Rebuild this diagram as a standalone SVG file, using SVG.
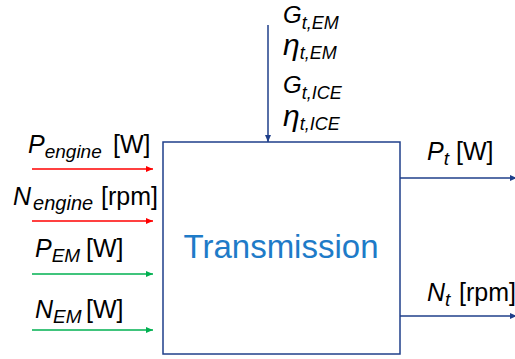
<svg xmlns="http://www.w3.org/2000/svg" width="515" height="359" viewBox="0 0 515 359">
<style>
.lbl{font-family:"Liberation Sans",Arial,sans-serif;font-size:25px;fill:#000}
.top{font-family:"Liberation Sans",Arial,sans-serif;font-size:24px;fill:#000;font-style:italic}
.eta{font-size:30px}
.it{font-style:italic}
.sub{font-size:19px;font-style:italic}
.tsub{font-size:18px;font-style:italic}
.red{stroke:#ff0000;stroke-width:1.5;fill:none}
.grn{stroke:#00b050;stroke-width:1.5;fill:none}
.blu{stroke:#1f3f8a;stroke-width:1.5;fill:none}
</style>
<defs>
<marker id="ar" markerWidth="8" markerHeight="8" refX="7" refY="4" orient="auto" markerUnits="userSpaceOnUse"><path d="M0,1 L7,4 L0,7 Z" fill="#ff0000"/></marker>
<marker id="ag" markerWidth="8" markerHeight="8" refX="7" refY="4" orient="auto" markerUnits="userSpaceOnUse"><path d="M0,1 L7,4 L0,7 Z" fill="#00b050"/></marker>
<marker id="ab" markerWidth="8" markerHeight="8" refX="7" refY="4" orient="auto" markerUnits="userSpaceOnUse"><path d="M0,1 L7,4 L0,7 Z" fill="#1f3f8a"/></marker>
</defs>
<g id="transmission">
<rect x="163" y="142" width="237" height="212" fill="#fff" stroke="#1f3f8a" stroke-width="1.5"/>
<text x="281" y="258" text-anchor="middle" style="font-family:'Liberation Sans',Arial,sans-serif;font-size:33px;fill:#1e7bc8">Transmission</text>
</g>
<g id="connectors">
<line class="red" x1="32" y1="169" x2="153" y2="169" marker-end="url(#ar)"/>
<line class="red" x1="32" y1="221" x2="153" y2="221" marker-end="url(#ar)"/>
<line class="grn" x1="32" y1="274" x2="153" y2="274" marker-end="url(#ag)"/>
<line class="grn" x1="32" y1="330" x2="153" y2="330" marker-end="url(#ag)"/>
<line class="blu" x1="268" y1="25" x2="268" y2="142" marker-end="url(#ab)"/>
<line class="blu" x1="400" y1="178" x2="517" y2="178" marker-end="url(#ab)"/>
<line class="blu" x1="400" y1="316" x2="517" y2="316" marker-end="url(#ab)"/>
</g>
<g id="labels">
<text class="lbl" x="28" y="153"><tspan class="it">P</tspan><tspan class="sub" dy="5">engine</tspan><tspan x="113" y="153">[W]</tspan></text>
<text class="lbl" x="13" y="205"><tspan class="it">N</tspan><tspan class="sub" dy="5" dx="2" style="font-size:20px">engine</tspan><tspan x="101" y="205">[rpm]</tspan></text>
<text class="lbl" x="35" y="257"><tspan class="it">P</tspan><tspan class="sub" dy="5">EM</tspan><tspan x="86" y="257">[W]</tspan></text>
<text class="lbl" x="35" y="318"><tspan class="it">N</tspan><tspan class="sub" dy="5">EM</tspan><tspan x="86" y="318">[W]</tspan></text>
<text class="lbl" x="427" y="160"><tspan class="it">P</tspan><tspan class="sub" dy="5">t</tspan><tspan x="456" y="160">[W]</tspan></text>
<text class="lbl" x="427" y="301"><tspan class="it">N</tspan><tspan class="sub" dy="5">t</tspan><tspan x="459" y="301">[rpm]</tspan></text>
<text class="top" x="283" y="23">G<tspan class="tsub" dy="6">t,EM</tspan></text>
<text class="top" x="283" y="55"><tspan class="eta">η</tspan><tspan class="tsub" dy="4">t,EM</tspan></text>
<text class="top" x="283" y="93">G<tspan class="tsub" dy="6">t,ICE</tspan></text>
<text class="top" x="283" y="126"><tspan class="eta">η</tspan><tspan class="tsub" dy="4">t,ICE</tspan></text>
</g>
</svg>
